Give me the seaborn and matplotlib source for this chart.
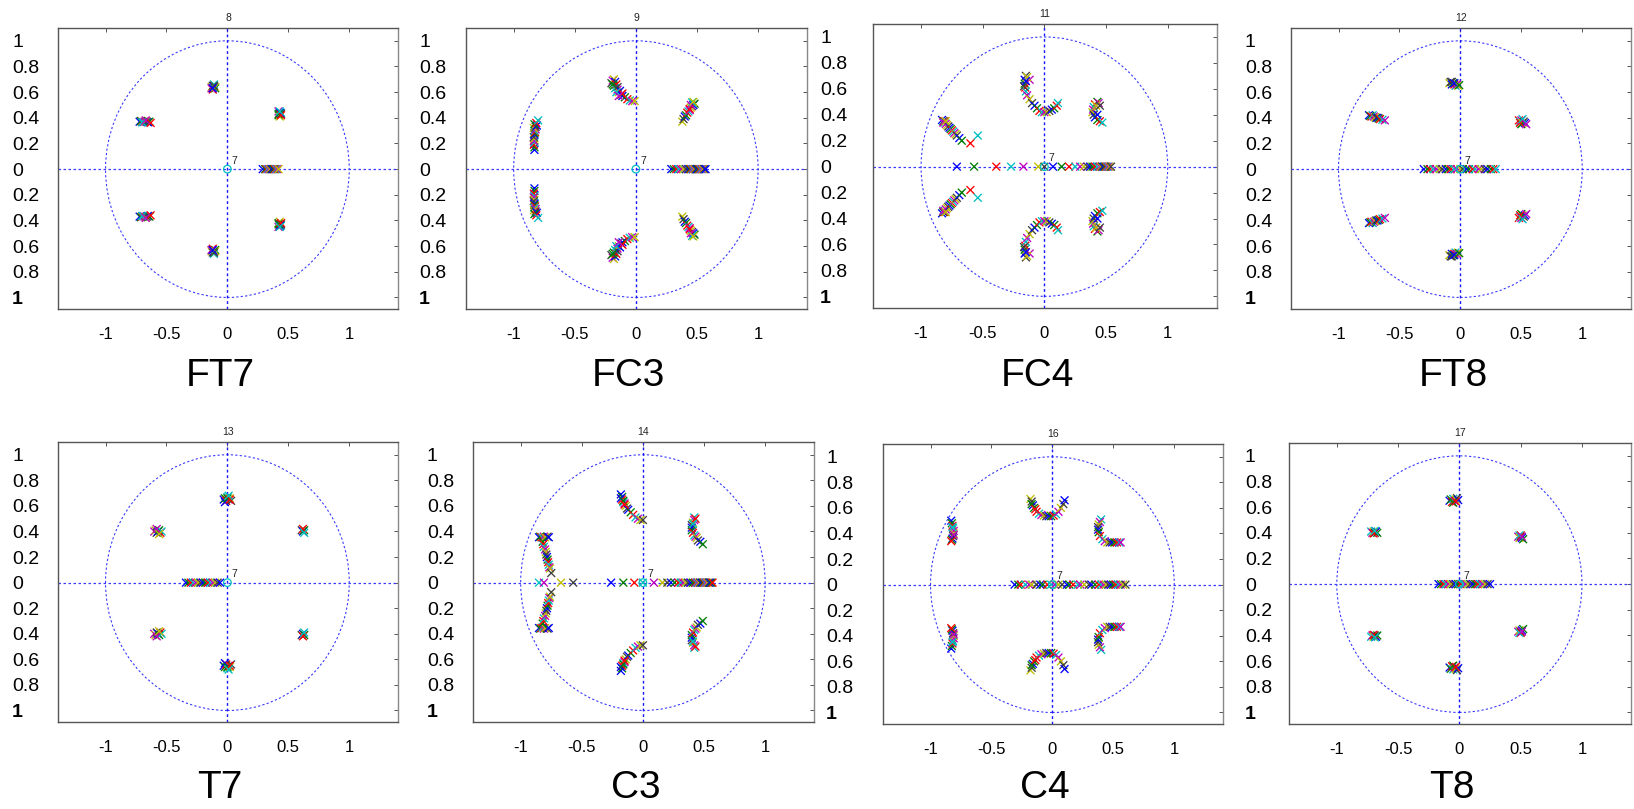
import numpy as np
import pandas as pd
import matplotlib
matplotlib.use("Agg")
import matplotlib.pyplot as plt
import seaborn as sns
from matplotlib import font_manager
from matplotlib.patches import Circle

# ---------------- data ----------------
channel_names = ["FT7", "FC3", "FC4", "FT8", "T7", "C3", "C4", "T8"]
channel_numbers = ["8", "9", "11", "12", "13", "14", "16", "17"]
zero_location = [0.0]
zero_multiplicity = 7
ytick_values = [-1, -0.8, -0.6, -0.4, -0.2, 0, 0.2, 0.4, 0.6, 0.8, 1]
ytick_texts = ["1", "0.8", "0.6", "0.4", "0.2", "0", "0.2", "0.4", "0.6", "0.8", "1"]
xtick_values = [-1, -0.5, 0, 0.5, 1]
xtick_texts = ["-1", "-0.5", "0", "0.5", "1"]

# real poles, and upper-half complex poles (conjugates are mirrored)
FT7_real = [0.29, 0.31, 0.32, 0.33, 0.34, 0.35, 0.36, 0.37, 0.38, 0.39, 0.40, 0.41, 0.42]
FT7_re = [-0.72, -0.71, -0.70, -0.69, -0.68, -0.67, -0.66, -0.65, -0.64, -0.63, -0.70, -0.67,
          -0.13, -0.12, -0.11, -0.10, -0.12, -0.11, -0.13, -0.10, -0.11, -0.12,
          0.42, 0.43, 0.44, 0.42, 0.43, 0.44, 0.43, 0.42, 0.44, 0.43]
FT7_im = [0.37, 0.375, 0.37, 0.365, 0.37, 0.375, 0.37, 0.365, 0.37, 0.36, 0.365, 0.38,
          0.64, 0.65, 0.64, 0.63, 0.62, 0.66, 0.63, 0.64, 0.65, 0.63,
          0.42, 0.43, 0.44, 0.45, 0.41, 0.43, 0.44, 0.43, 0.42, 0.45]

FC3_real = [0.29, 0.31, 0.33, 0.35, 0.37, 0.39, 0.41, 0.43, 0.44, 0.45, 0.46, 0.47, 0.48,
            0.49, 0.50, 0.51, 0.52, 0.53, 0.54, 0.55, 0.56, 0.57]
FC3_re = [-0.83, -0.83, -0.835, -0.83, -0.835, -0.83, -0.835, -0.83, -0.83, -0.825, -0.83, -0.82,
          -0.835, -0.82, -0.81, -0.83, -0.815, -0.80,
          -0.19, -0.18, -0.20, -0.17, -0.18, -0.16, -0.17, -0.15, -0.14, -0.12, -0.11, -0.09,
          -0.07, -0.05, -0.03, -0.01, -0.15, -0.13, -0.19, -0.11, -0.16, -0.14,
          0.38, 0.39, 0.40, 0.41, 0.42, 0.43, 0.44, 0.45, 0.46, 0.47, 0.48, 0.44, 0.46, 0.45, 0.47]
FC3_im = [0.15, 0.17, 0.19, 0.21, 0.22, 0.24, 0.25, 0.27, 0.28, 0.29, 0.30, 0.31,
          0.32, 0.33, 0.34, 0.35, 0.36, 0.38,
          0.69, 0.70, 0.67, 0.68, 0.65, 0.66, 0.63, 0.62, 0.60, 0.58, 0.57, 0.56,
          0.545, 0.535, 0.53, 0.53, 0.64, 0.61, 0.66, 0.59, 0.60, 0.57,
          0.37, 0.39, 0.41, 0.42, 0.44, 0.45, 0.46, 0.48, 0.49, 0.50, 0.51, 0.47, 0.52, 0.50, 0.525]

FC4_real = [-0.71, -0.57, -0.39, -0.27, -0.17, -0.05, 0.0, 0.07, 0.14, 0.20, 0.25, 0.29, 0.32,
            0.35, 0.37, 0.39, 0.41, 0.43, 0.45, 0.46, 0.47, 0.48, 0.49, 0.50, 0.51, 0.52, 0.53, 0.54]
FC4_re = [-0.83, -0.82, -0.81, -0.81, -0.80, -0.79, -0.78, -0.77, -0.76, -0.75, -0.74, -0.73,
          -0.72, -0.71, -0.69, -0.67, -0.60, -0.54, -0.82, -0.80,
          -0.15, -0.16, -0.16, -0.155, -0.15, -0.14, -0.12, -0.10, -0.08, -0.06, -0.04, -0.02,
          0.0, 0.02, 0.04, 0.06, 0.08, 0.10, 0.11, -0.12, -0.14, -0.165, -0.15,
          0.43, 0.41, 0.40, 0.395, 0.39, 0.40, 0.41, 0.43, 0.45, 0.47, 0.44, 0.42, 0.45, 0.43]
FC4_im = [0.36, 0.35, 0.35, 0.34, 0.33, 0.32, 0.31, 0.30, 0.29, 0.28, 0.27, 0.26,
          0.25, 0.24, 0.22, 0.20, 0.18, 0.24, 0.34, 0.35,
          0.70, 0.67, 0.64, 0.61, 0.58, 0.55, 0.52, 0.49, 0.47, 0.45, 0.43, 0.42,
          0.42, 0.42, 0.43, 0.44, 0.45, 0.47, 0.49, 0.67, 0.69, 0.62, 0.66,
          0.50, 0.48, 0.46, 0.44, 0.42, 0.40, 0.38, 0.36, 0.35, 0.34, 0.49, 0.47, 0.47, 0.40]

FT8_real = [-0.30, -0.27, -0.25, -0.22, -0.20, -0.17, -0.15, -0.12, -0.10, -0.08, -0.05, -0.03,
            0.0, 0.02, 0.05, 0.07, 0.10, 0.12, 0.15, 0.17, 0.20, 0.22, 0.25, 0.27, 0.29]
FT8_re = [-0.75, -0.74, -0.73, -0.72, -0.71, -0.70, -0.69, -0.68, -0.67, -0.66, -0.64, -0.62,
          -0.09, -0.08, -0.07, -0.06, -0.05, -0.04, -0.03, -0.02, -0.07, -0.05, -0.01,
          0.48, 0.49, 0.50, 0.51, 0.52, 0.53, 0.50, 0.49, 0.51, 0.54]
FT8_im = [0.42, 0.415, 0.41, 0.42, 0.41, 0.405, 0.40, 0.40, 0.395, 0.39, 0.385, 0.38,
          0.67, 0.68, 0.66, 0.67, 0.66, 0.65, 0.66, 0.65, 0.68, 0.67, 0.655,
          0.38, 0.37, 0.38, 0.36, 0.37, 0.36, 0.35, 0.36, 0.39, 0.35]

T7_real = [-0.34, -0.32, -0.30, -0.28, -0.26, -0.24, -0.22, -0.20, -0.18, -0.16, -0.14,
           -0.12, -0.10, -0.08, -0.06]
T7_re = [-0.03, -0.02, -0.01, 0.0, 0.01, 0.02, 0.03, -0.02, 0.0, 0.02, 0.01,
         -0.60, -0.59, -0.58, -0.57, -0.56, -0.55, -0.54, -0.58, -0.56,
         0.61, 0.62, 0.63, 0.62, 0.63]
T7_im = [0.65, 0.66, 0.64, 0.67, 0.65, 0.66, 0.64, 0.63, 0.66, 0.65, 0.68,
         0.40, 0.41, 0.39, 0.40, 0.41, 0.39, 0.40, 0.42, 0.38,
         0.41, 0.40, 0.41, 0.42, 0.39]

C3_real = [-0.26, -0.16, -0.07, 0.0, 0.09, 0.16, 0.20, 0.23, 0.26, 0.29, 0.31, 0.33, 0.35,
           0.37, 0.39, 0.41, 0.43, 0.44, 0.45, 0.46, 0.47, 0.48, 0.49, 0.50, 0.51, 0.52,
           0.53, 0.54, 0.55, 0.56, 0.57, -0.85, -0.81, -0.67, -0.57]
C3_re = [-0.85, -0.84, -0.83, -0.82, -0.81, -0.80, -0.78, -0.77, -0.82, -0.815, -0.81, -0.80,
         -0.795, -0.79, -0.785, -0.78, -0.775, -0.77, -0.765, -0.76, -0.75,
         -0.18, -0.17, -0.17, -0.16, -0.15, -0.14, -0.13, -0.12, -0.10, -0.08, -0.06, -0.04,
         -0.02, 0.0, -0.18, -0.16, -0.15,
         0.42, 0.42, 0.41, 0.40, 0.40, 0.40, 0.41, 0.42, 0.43, 0.44, 0.45, 0.47, 0.49, 0.43, 0.41]
C3_im = [0.355, 0.36, 0.355, 0.35, 0.36, 0.355, 0.36, 0.355, 0.32, 0.30, 0.28, 0.26,
         0.24, 0.22, 0.20, 0.18, 0.16, 0.14, 0.12, 0.11, 0.075,
         0.69, 0.67, 0.65, 0.63, 0.62, 0.60, 0.58, 0.57, 0.55, 0.53, 0.51, 0.50,
         0.49, 0.49, 0.66, 0.64, 0.61,
         0.51, 0.49, 0.47, 0.45, 0.43, 0.41, 0.39, 0.37, 0.36, 0.35, 0.33, 0.32, 0.30, 0.50, 0.46]

C4_real = [-0.31, -0.28, -0.26, -0.22, -0.19, -0.17, -0.13, -0.10, -0.08, -0.04, -0.01, 0.02,
           0.05, 0.08, 0.12, 0.14, 0.17, 0.21, 0.23, 0.26, 0.30, 0.32, 0.35, 0.38, 0.40, 0.42,
           0.44, 0.46, 0.48, 0.50, 0.52, 0.54, 0.56, 0.58, 0.60]
C4_re = [-0.83, -0.825, -0.82, -0.815, -0.81, -0.81, -0.815, -0.82, -0.825, -0.83, -0.82, -0.81,
         -0.18, -0.17, -0.16, -0.15, -0.13, -0.11, -0.09, -0.07, -0.05, -0.03, -0.01, 0.01,
         0.03, 0.05, 0.07, 0.09, 0.10, -0.17, -0.14,
         0.40, 0.39, 0.38, 0.375, 0.375, 0.38, 0.39, 0.41, 0.43, 0.45, 0.47, 0.49, 0.51,
         0.53, 0.55, 0.56]
C4_im = [0.50, 0.48, 0.46, 0.44, 0.42, 0.40, 0.38, 0.36, 0.35, 0.34, 0.45, 0.39,
         0.67, 0.65, 0.62, 0.60, 0.57, 0.555, 0.545, 0.54, 0.535, 0.535, 0.535, 0.54,
         0.55, 0.57, 0.60, 0.63, 0.66, 0.63, 0.59,
         0.51, 0.49, 0.47, 0.45, 0.43, 0.41, 0.38, 0.355, 0.34, 0.33, 0.33, 0.33, 0.33,
         0.33, 0.33, 0.33]

T8_real = [-0.17, -0.15, -0.13, -0.11, -0.09, -0.07, -0.05, -0.03, -0.01, 0.01, 0.03, 0.05,
           0.07, 0.09, 0.11, 0.13, 0.15, 0.17, 0.19, 0.21, 0.23, 0.25]
T8_re = [-0.08, -0.07, -0.06, -0.05, -0.04, -0.03, -0.02, -0.01, -0.05, -0.03,
         -0.72, -0.71, -0.70, -0.69, -0.68, -0.67, -0.70, -0.69,
         0.48, 0.49, 0.50, 0.51, 0.52, 0.50, 0.49, 0.51]
T8_im = [0.65, 0.66, 0.64, 0.665, 0.65, 0.66, 0.67, 0.655, 0.635, 0.645,
         0.41, 0.40, 0.41, 0.40, 0.41, 0.40, 0.395, 0.415,
         0.37, 0.36, 0.37, 0.36, 0.35, 0.38, 0.38, 0.37]

panel_real = [FT7_real, FC3_real, FC4_real, FT8_real, T7_real, C3_real, C4_real, T8_real]
panel_re = [FT7_re, FC3_re, FC4_re, FT8_re, T7_re, C3_re, C4_re, T8_re]
panel_im = [FT7_im, FC3_im, FC4_im, FT8_im, T7_im, C3_im, C4_im, T8_im]

# ---------------- style / layout ----------------
pole_colors = ["#0000ff", "#008000", "#ff0000", "#00bfbf", "#bf00bf", "#bfbf00", "#404040"]
# axes boxes in pixels: left, top, right, bottom, left edge of the y labels
boxes = [(58, 28, 398, 309, 12), (466, 28, 807, 309, 419), (873, 24, 1217, 308, 820),
         (1291, 28, 1631, 309, 1245), (58, 442, 398, 722, 12), (473, 442, 814, 722, 427),
         (883, 444, 1223, 724, 826), (1289, 443, 1631, 724, 1245)]
W, H, DPI = 1634, 809, 100

sns.set_style("white")
names = {f.name for f in font_manager.fontManager.ttflist}
base_font = "Liberation Sans" if "Liberation Sans" in names else "DejaVu Sans"
narrow_font = "Liberation Sans Narrow" if "Liberation Sans Narrow" in names else base_font
plt.rcParams["font.family"] = [base_font, "DejaVu Sans"]

fig = plt.figure(figsize=(W / DPI, H / DPI), dpi=DPI)
fig.patch.set_facecolor("white")

hue_names = [f"s{k}" for k in range(7)]
palette = dict(zip(hue_names, pole_colors))

for i in range(8):
    l, t, r, b, lab_x = boxes[i]
    ax = fig.add_axes([l / W, 1 - b / H, (r - l) / W, (b - t) / H])
    ax.set_facecolor("white")

    real = np.asarray(panel_real[i], float)
    cre = np.asarray(panel_re[i], float)
    cim = np.asarray(panel_im[i], float)
    re_all = np.concatenate([real, cre, cre])
    im_all = np.concatenate([np.zeros_like(real), cim, -cim])
    idx = np.concatenate([np.arange(len(real)), np.arange(len(cre)), np.arange(len(cre))]) % 7
    df = pd.DataFrame({"re": re_all, "im": im_all, "series": [hue_names[k] for k in idx]})

    # reference lines: unit circle and axes
    ax.add_patch(Circle((0, 0), 1, fill=False, ls=(0, (2, 2)), lw=0.8,
                        edgecolor="#3a3aff", zorder=1))
    ax.axhline(0, ls=(0, (2, 2)), lw=0.9, color="#3a3aff", zorder=1)
    ax.axvline(0, ls=(0, (2, 2)), lw=1.0, color="#1515ff", zorder=1)

    sns.scatterplot(data=df, x="re", y="im", hue="series", hue_order=hue_names,
                    palette=palette, marker="x", s=32, linewidth=0.95,
                    legend=False, ax=ax, zorder=3)
    zdf = pd.DataFrame({"re": zero_location, "im": [0.0] * len(zero_location)})
    sns.scatterplot(data=zdf, x="re", y="im", marker="o", s=30, facecolor="none",
                    edgecolor="#00bfbf", linewidth=0.9, legend=False, ax=ax, zorder=4)
    ax.annotate(str(zero_multiplicity), (zero_location[0], 0), xytext=(3, 4),
                textcoords="offset points", fontsize=7.5, color="#222222")

    ax.set_xlim(-1.39, 1.40)
    ax.set_ylim(-1.09, 1.10)
    ax.set_xlabel("")
    ax.set_ylabel("")
    ax.set_xticks(xtick_values)
    ax.set_xticklabels(xtick_texts, fontsize=12)
    ax.set_yticks(ytick_values)
    ax.set_yticklabels(ytick_texts, fontsize=14)
    pad_pt = (l - lab_x) * 72 / DPI
    ax.tick_params(axis="y", direction="in", length=3, width=0.7, colors="#555555",
                   labelcolor="black", right=True, pad=pad_pt)
    ax.tick_params(axis="x", direction="in", length=3, width=0.7, colors="#555555",
                   labelcolor="black", top=True, pad=13)
    for lbl in ax.get_yticklabels():
        lbl.set_horizontalalignment("left")
    ax.get_yticklabels()[0].set_fontweight("bold")
    for side, sp in ax.spines.items():
        sp.set_visible(True)
        sp.set_color("#555555" if side in ("top", "left", "bottom") else "#888888")
        sp.set_linewidth(1.0)

    ax.set_title(channel_numbers[i], fontsize=7.5, color="#222222", pad=5)

    row_y = 376 if i < 4 else 788
    fig.text(((l + r) / 2 - 8) / W, 1 - row_y / H, channel_names[i], ha="center",
             va="center", fontsize=28, family=[narrow_font, "DejaVu Sans"], color="black")

fig.savefig("out.png", dpi=DPI, facecolor="white")
